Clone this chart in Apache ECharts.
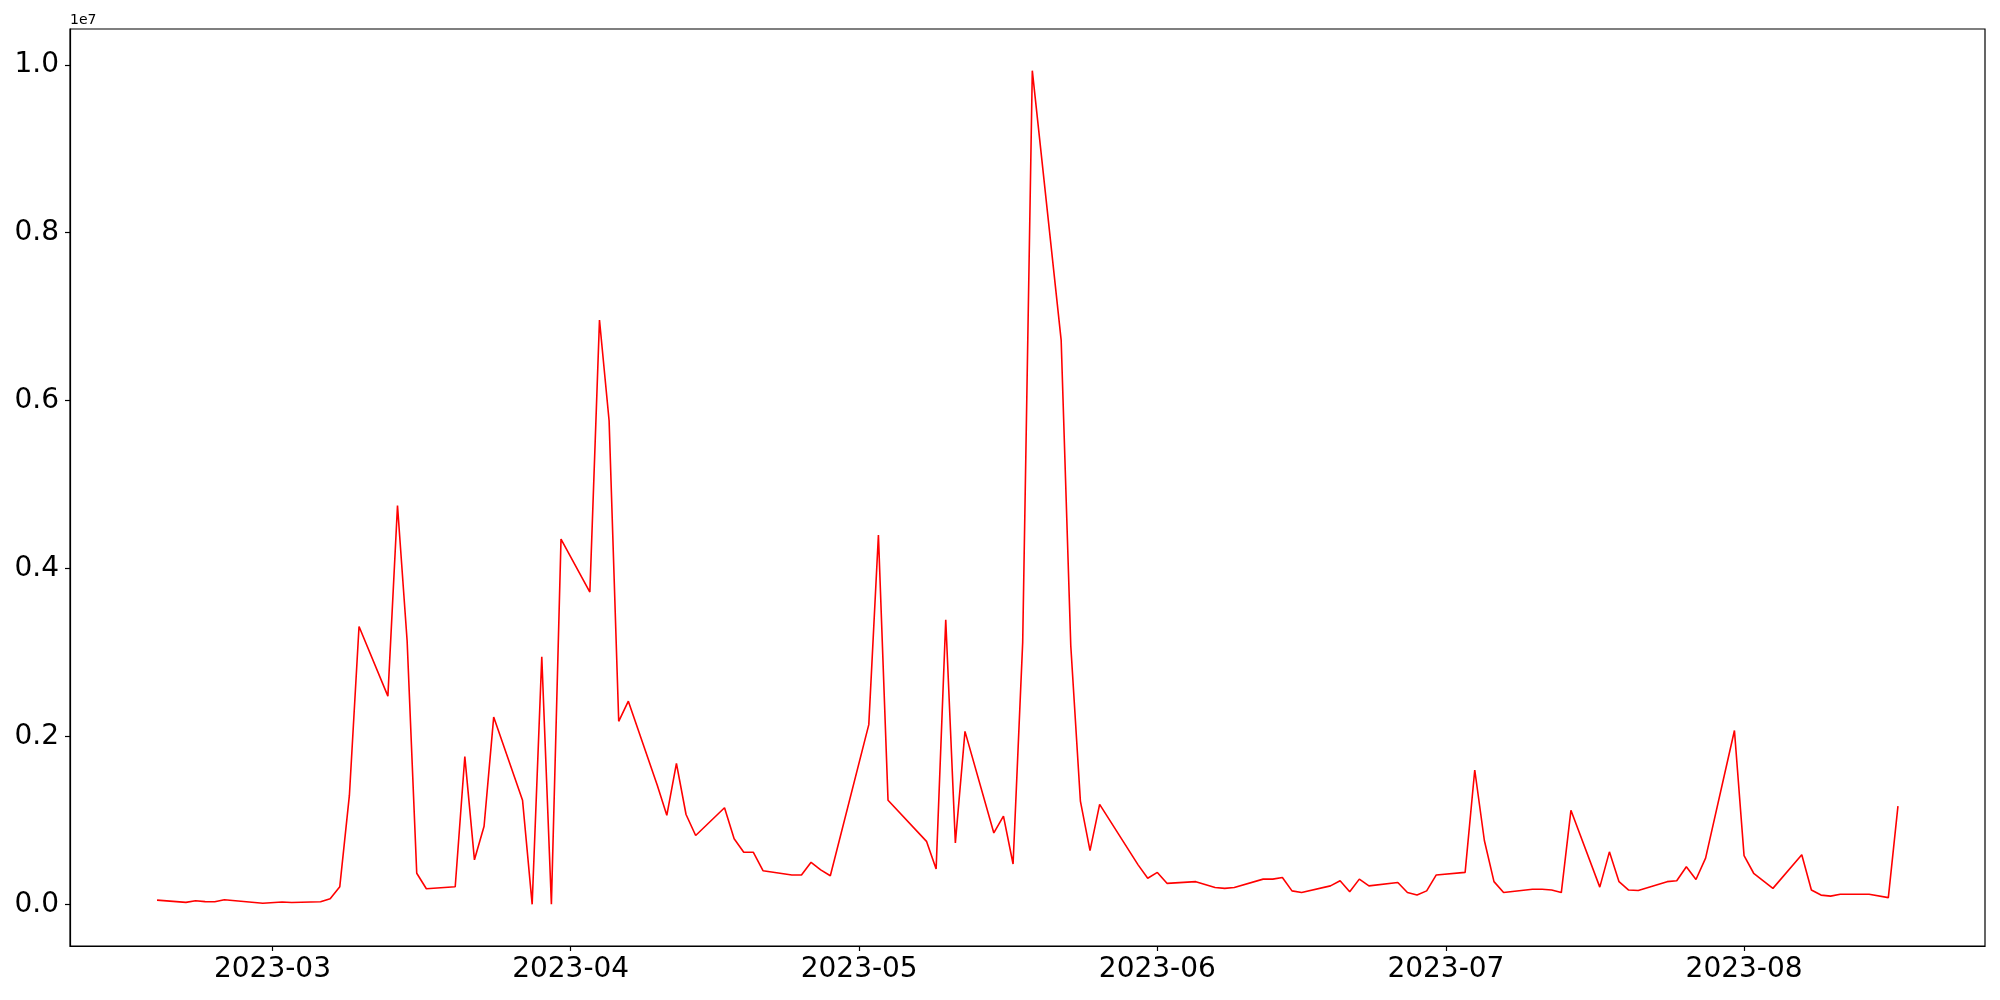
<!DOCTYPE html>
<html>
<head>
<meta charset="utf-8">
<script src="https://cdn.jsdelivr.net/npm/echarts@6/dist/echarts.min.js"></script>
<style>
  html, body { margin: 0; padding: 0; background: #fff; }
  #chart { width: 2000px; height: 1000px; }
</style>
</head>
<body>
<div id="chart"></div>
<script>
// trading days and their values
const dates = [
  '2023-02-17', '2023-02-20', '2023-02-21', '2023-02-22', '2023-02-23', '2023-02-24', '2023-02-28',
  '2023-03-02', '2023-03-03', '2023-03-06', '2023-03-07', '2023-03-08', '2023-03-09', '2023-03-10',
  '2023-03-13', '2023-03-14', '2023-03-15', '2023-03-16', '2023-03-17', '2023-03-20', '2023-03-21',
  '2023-03-22', '2023-03-23', '2023-03-24', '2023-03-27', '2023-03-28', '2023-03-29', '2023-03-30',
  '2023-03-31', '2023-04-03', '2023-04-04', '2023-04-05', '2023-04-06', '2023-04-07', '2023-04-10',
  '2023-04-11', '2023-04-12', '2023-04-13', '2023-04-14', '2023-04-17', '2023-04-18', '2023-04-19',
  '2023-04-20', '2023-04-21', '2023-04-24', '2023-04-25', '2023-04-26', '2023-04-27', '2023-04-28',
  '2023-05-02', '2023-05-03', '2023-05-04', '2023-05-08', '2023-05-09', '2023-05-10', '2023-05-11',
  '2023-05-12', '2023-05-15', '2023-05-16', '2023-05-17', '2023-05-18', '2023-05-19', '2023-05-22',
  '2023-05-23', '2023-05-24', '2023-05-25', '2023-05-26', '2023-05-30', '2023-05-31', '2023-06-01',
  '2023-06-02', '2023-06-05', '2023-06-07', '2023-06-08', '2023-06-09', '2023-06-12', '2023-06-13',
  '2023-06-14', '2023-06-15', '2023-06-16', '2023-06-19', '2023-06-20', '2023-06-21', '2023-06-22',
  '2023-06-23', '2023-06-26', '2023-06-27', '2023-06-28', '2023-06-29', '2023-06-30', '2023-07-03',
  '2023-07-04', '2023-07-05', '2023-07-06', '2023-07-07', '2023-07-10', '2023-07-11', '2023-07-12',
  '2023-07-13', '2023-07-14', '2023-07-17', '2023-07-18', '2023-07-19', '2023-07-20', '2023-07-21',
  '2023-07-24', '2023-07-25', '2023-07-26', '2023-07-27', '2023-07-28', '2023-07-31', '2023-08-01',
  '2023-08-02', '2023-08-04', '2023-08-07', '2023-08-08', '2023-08-09', '2023-08-10', '2023-08-11',
  '2023-08-14', '2023-08-16', '2023-08-17'
]
const values = [
  50000, 23000, 43000, 32000, 30000, 55000, 12000,
  28000, 22000, 30000, 67000, 210000, 1300000, 3310000,
  2480000, 4750000, 3140000, 370000, 186000, 210000, 1760000,
  530000, 930000, 2230000, 1240000, 0, 2950000, 0,
  4350000, 3720000, 6960000, 5760000, 2180000, 2420000, 1420000,
  1060000, 1680000, 1070000, 820000, 1150000, 780000, 620000,
  620000, 400000, 350000, 350000, 500000, 410000, 340000,
  2140000, 4400000, 1240000, 750000, 420000, 3390000, 730000,
  2060000, 850000, 1050000, 480000, 3120000, 9930000, 6720000,
  3080000, 1230000, 640000, 1190000, 470000, 310000, 380000,
  250000, 270000, 200000, 190000, 200000, 300000, 300000,
  320000, 160000, 140000, 220000, 280000, 150000, 300000,
  220000, 260000, 140000, 110000, 160000, 350000, 380000,
  1600000, 760000, 270000, 140000, 180000, 180000, 170000,
  140000, 1120000, 205000, 625000, 270000, 170000, 165000,
  270000, 280000, 447000, 296000, 550000, 2070000, 580000,
  370000, 190000, 590000, 170000, 110000, 98000, 120000,
  120000, 80000, 1170000
]
const xTicks = ['2023-03-01', '2023-04-01', '2023-05-01', '2023-06-01', '2023-07-01', '2023-08-01']
const yTicks = [0, 2000000, 4000000, 6000000, 8000000, 10000000]

const toTime = (s) => {
  const [y, m, d] = s.split('-').map(Number)
  return new Date(y, m - 1, d).getTime()
}

const chart = echarts.init(document.getElementById('chart'))

// matplotlib style 5% margins
const t0 = toTime(dates[0])
const t1 = toTime(dates[dates.length - 1])
const vMin = Math.min(...values)
const vMax = Math.max(...values)
const xPad = (t1 - t0) * 0.05
const yPad = (vMax - vMin) * 0.05

const font = 'DejaVu Sans'
const axisStyle = { color: '#000', width: 1.2 }

const option = {
  animation: false,
  backgroundColor: '#fff',
  grid: {
    left: 70,
    right: 15,
    top: 29,
    bottom: 54,
    show: true,
    borderColor: '#000',
    borderWidth: 1.2,
    backgroundColor: 'transparent'
  },
  graphic: [
    {
      type: 'text',
      left: 70,
      top: 13,
      style: { text: '1e7', font: '14px "DejaVu Sans"', fill: '#000' }
    }
  ],
  xAxis: {
    type: 'value',
    min: t0 - xPad,
    max: t1 + xPad,
    splitLine: { show: false },
    axisLine: { show: true, onZero: false, lineStyle: axisStyle },
    axisTick: {
      show: true,
      inside: false,
      length: 5,
      lineStyle: axisStyle,
      customValues: xTicks.map(toTime)
    },
    axisLabel: {
      color: '#000',
      fontFamily: font,
      fontSize: 28,
      margin: 10,
      customValues: xTicks.map(toTime),
      formatter: (v) => {
        const d = new Date(v)
        return d.getFullYear() + '-' + String(d.getMonth() + 1).padStart(2, '0')
      }
    }
  },
  yAxis: {
    type: 'value',
    min: vMin - yPad,
    max: vMax + yPad,
    splitLine: { show: false },
    axisLine: { show: true, onZero: false, lineStyle: axisStyle },
    axisTick: {
      show: true,
      inside: false,
      length: 5,
      lineStyle: axisStyle,
      customValues: yTicks
    },
    axisLabel: {
      color: '#000',
      fontFamily: font,
      fontSize: 28,
      margin: 11,
      customValues: yTicks,
      formatter: (v) => (v / 1e7).toFixed(1)
    }
  },
  series: [
    {
      type: 'line',
      data: dates.map((d, i) => [toTime(d), values[i]]),
      symbol: 'none',
      lineStyle: { color: '#ff0000', width: 1.6 }
    }
  ]
}

chart.setOption(option)
</script>
</body>
</html>
